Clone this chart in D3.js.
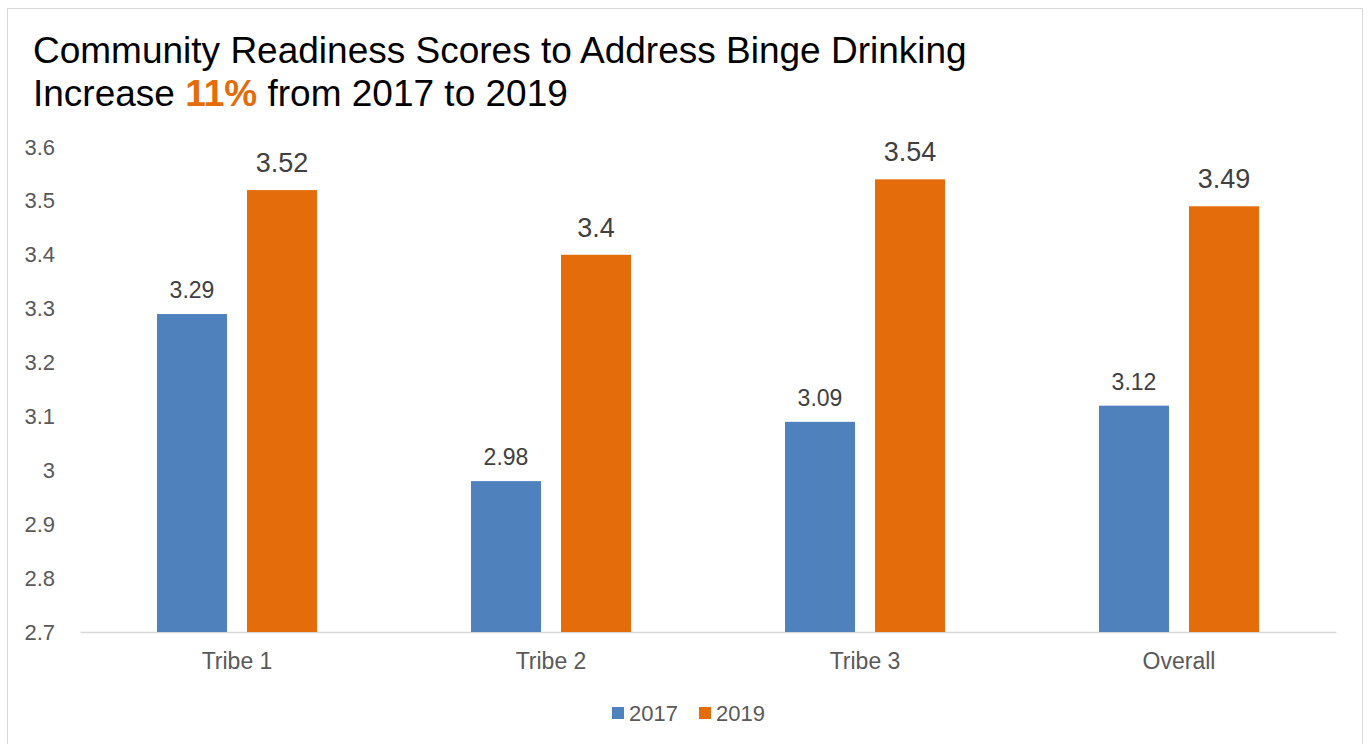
<!DOCTYPE html>
<html>
<head>
<meta charset="utf-8">
<script src="https://cdn.jsdelivr.net/npm/d3@7"></script>
<style>
	body { margin:0; background:#fff; }
	svg { font-family: "Liberation Sans", Arial, sans-serif; }
</style>
</head>
<body>
<div id="chart"></div>
<script>
// Datos del gráfico
var categories = ["Tribe 1", "Tribe 2", "Tribe 3", "Overall"];
var series = ["2017", "2019"];
var values2017 = [3.29, 2.98, 3.09, 3.12];
var values2019 = [3.52, 3.4, 3.54, 3.49];
var yTicks = [2.7, 2.8, 2.9, 3, 3.1, 3.2, 3.3, 3.4, 3.5, 3.6];
var colors = ["#4f81bd", "#e46c0a"];

var W = 1369, H = 744;
var margin = {top: 147, right: 33, bottom: 112, left: 80};
var fuente = "Liberation Sans, Arial, sans-serif";

var svg = d3.select("#chart").append("svg")
	.attr("width", W)
	.attr("height", H);

// marco
svg.append("rect")
	.attr("x", 7.5).attr("y", 8.5)
	.attr("width", 1355).attr("height", 760)
	.attr("fill", "#fff")
	.attr("stroke", "#d9d9d9");

// titulo
svg.append("text")
	.attr("x", 33).attr("y", 63)
	.attr("font-size", 37)
	.attr("fill", "#000")
	.text("Community Readiness Scores to Address Binge Drinking");
var t2 = svg.append("text")
	.attr("x", 33).attr("y", 106)
	.attr("font-size", 37)
	.attr("fill", "#000");
t2.append("tspan").text("Increase ");
t2.append("tspan").attr("fill", "#e46c0a").attr("font-weight", "bold").text("11%");
t2.append("tspan").text(" from 2017 to 2019");

var x0 = d3.scaleBand()
	.domain(categories)
	.range([margin.left, W - margin.right]);

var x1 = d3.scaleBand()
	.domain(series)
	.range([0, 160])
	.paddingInner(20 / 90)
	.paddingOuter(0);

var y = d3.scaleLinear()
	.domain([2.7, 3.6])
	.range([H - margin.bottom, margin.top]);

// eje y (solo etiquetas)
var yAxis = svg.append("g")
	.attr("transform", "translate(" + (margin.left - 22) + ",0)")
	.call(d3.axisLeft(y).tickValues(yTicks).tickSize(0).tickFormat(d3.format("")));
yAxis.select(".domain").remove();
yAxis.selectAll("text")
	.attr("font-size", 22)
	.attr("fill", "#595959")
	.attr("font-family", fuente);

// eje x
var xAxis = svg.append("g")
	.attr("transform", "translate(0," + y(2.7) + ")")
	.call(d3.axisBottom(x0).tickSize(0).tickPadding(21));
xAxis.select(".domain").attr("stroke", "#d9d9d9").attr("stroke-width", 1.5);
xAxis.selectAll("text")
	.attr("font-size", 23)
	.attr("fill", "#595959")
	.attr("font-family", fuente);

var data = categories.map(function(c, i) {
	return {cat: c, vals: [values2017[i], values2019[i]]};
});

var groups = svg.selectAll(".grupo")
	.data(data)
	.enter().append("g")
	.attr("class", "grupo")
	.attr("transform", function(d) {
		return "translate(" + (x0(d.cat) + x0.bandwidth() / 2 - 80) + ",0)";
	});

groups.selectAll("rect")
	.data(function(d) { return d.vals.map(function(v, j) { return {s: series[j], v: v, j: j}; }); })
	.enter().append("rect")
	.attr("x", function(d) { return x1(d.s); })
	.attr("y", function(d) { return y(d.v); })
	.attr("width", x1.bandwidth())
	.attr("height", function(d) { return y(2.7) - y(d.v); })
	.attr("fill", function(d) { return colors[d.j]; });

groups.selectAll(".lbl")
	.data(function(d) { return d.vals.map(function(v, j) { return {s: series[j], v: v, j: j}; }); })
	.enter().append("text")
	.attr("class", "lbl")
	.attr("x", function(d) { return x1(d.s) + x1.bandwidth() / 2; })
	.attr("y", function(d) { return y(d.v) - (d.j == 0 ? 16 : 18); })
	.attr("text-anchor", "middle")
	.attr("font-size", function(d) { return d.j == 0 ? 23 : 27; })
	.attr("fill", "#404040")
	.text(function(d) { return d.v; });

// leyenda
var legend = svg.append("g").attr("transform", "translate(612,0)");
var lx = [0, 87];
series.forEach(function(s, i) {
	legend.append("rect")
		.attr("x", lx[i]).attr("y", 707)
		.attr("width", 12).attr("height", 12)
		.attr("fill", colors[i]);
	legend.append("text")
		.attr("x", lx[i] + 17).attr("y", 721)
		.attr("font-size", 22)
		.attr("fill", "#595959")
		.text(s);
});
</script>
</body>
</html>
